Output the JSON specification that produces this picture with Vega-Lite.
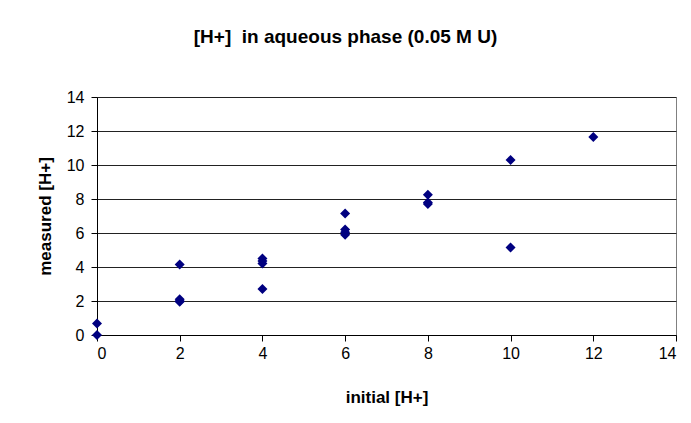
{
  "$schema": "https://vega.github.io/schema/vega-lite/v6.json",
  "width": 579,
  "height": 238,
  "autosize": "none",
  "padding": {"left": 97, "top": 97, "right": 15, "bottom": 88},
  "background": "white",
  "title": {
    "text": "[H+]\u00a0 in aqueous phase (0.05 M U)",
    "font": "Liberation Sans",
    "fontSize": 19,
    "fontWeight": "bold",
    "color": "black",
    "anchor": "middle",
    "dx": -41,
    "offset": 42
  },
  "config": {
    "view": {"stroke": "#808080", "strokeWidth": 1}
  },
  "data": {
    "values": [
      {"initial": 0, "measured": 0},
      {"initial": 0, "measured": 0.67},
      {"initial": 2, "measured": 4.15},
      {"initial": 2, "measured": 2.1},
      {"initial": 2, "measured": 2.0},
      {"initial": 2, "measured": 1.95},
      {"initial": 4, "measured": 4.5},
      {"initial": 4, "measured": 4.35},
      {"initial": 4, "measured": 4.2},
      {"initial": 4, "measured": 2.7},
      {"initial": 6, "measured": 7.15},
      {"initial": 6, "measured": 6.2},
      {"initial": 6, "measured": 6.05},
      {"initial": 6, "measured": 5.9},
      {"initial": 8, "measured": 8.25},
      {"initial": 8, "measured": 7.8},
      {"initial": 8, "measured": 7.7},
      {"initial": 10, "measured": 10.3},
      {"initial": 10, "measured": 5.15},
      {"initial": 12, "measured": 11.65}
    ]
  },
  "mark": {"type": "point", "shape": "diamond", "filled": true, "color": "#000080", "size": 100, "opacity": 1},
  "encoding": {
    "x": {
      "field": "initial",
      "type": "quantitative",
      "scale": {"domain": [0, 14], "nice": false, "zero": true},
      "axis": {
        "title": "initial [H+]",
        "values": [0, 2, 4, 6, 8, 10, 12, 14],
        "grid": false,
        "domainColor": "black",
        "tickColor": "black",
        "tickSize": 6,
        "labelFont": "Liberation Sans",
        "labelFontSize": 16,
        "labelColor": "black",
        "labelPadding": 4,
        "titleFont": "Liberation Sans",
        "titleFontSize": 17,
        "titleFontWeight": "bold",
        "titleColor": "black",
        "titlePadding": 28
      }
    },
    "y": {
      "field": "measured",
      "type": "quantitative",
      "scale": {"domain": [0, 14], "nice": false},
      "axis": {
        "title": "measured [H+]",
        "values": [0, 2, 4, 6, 8, 10, 12, 14],
        "grid": true,
        "gridColor": "#222",
        "gridWidth": 1,
        "domainColor": "black",
        "tickColor": "black",
        "tickSize": 6,
        "labelFont": "Liberation Sans",
        "labelFontSize": 16,
        "labelColor": "black",
        "labelPadding": 7,
        "titleFont": "Liberation Sans",
        "titleFontSize": 17,
        "titleFontWeight": "bold",
        "titleColor": "black",
        "titlePadding": 12
      }
    }
  }
}
